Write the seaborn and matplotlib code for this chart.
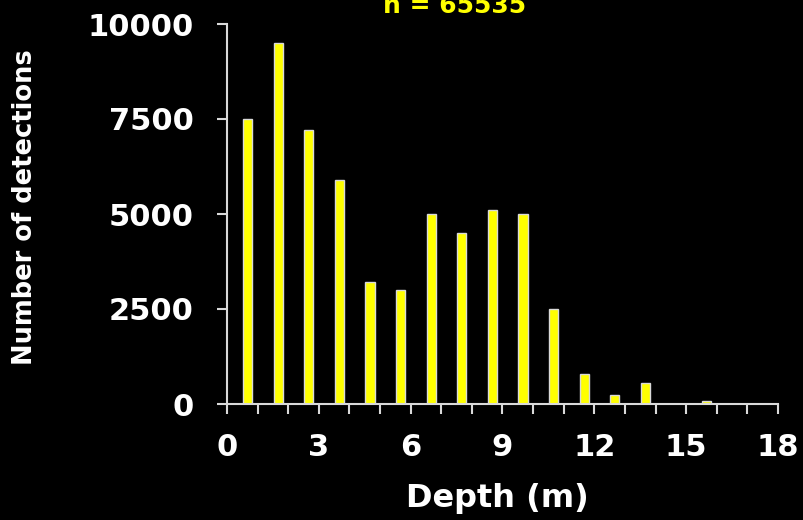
import numpy as np
import pandas as pd
import matplotlib
matplotlib.use("Agg")
import matplotlib.pyplot as plt
import seaborn as sns
from matplotlib.ticker import FixedLocator, MultipleLocator

# ---- data ----
depth_bins = list(range(18))          # depth bin (m), lower edge
counts = [7500, 9500, 7200, 5900, 3200, 3000, 5000, 4500, 5100, 5000,
          2500, 800, 230, 550, 0, 70, 0, 0]
x_ticks = [0, 3, 6, 9, 12, 15, 18]
y_ticks = [0, 2500, 5000, 7500, 10000]
title_text = "n = 65535"
x_label = "Depth (m)"
y_label = "Number of detections"

sns.set_theme(style="ticks")
plt.rcParams["font.family"] = ["DejaVu Sans"]

FG = "#D9D9D9"
fig = plt.figure(figsize=(8.04, 5.2), dpi=100, facecolor="black")
ax = fig.add_axes([227 / 804, 1 - 404 / 520, 551 / 804, 380 / 520])
ax.set_facecolor("black")

df = pd.DataFrame({"depth": np.array(depth_bins) + 0.67, "count": counts})
sns.barplot(data=df, x="depth", y="count", native_scale=True, width=0.3,
            color="#FFFF00", saturation=1, edgecolor=FG, linewidth=1.0,
            errorbar=None, ax=ax)

ax.set_xlim(0, 18)
ax.set_ylim(0, 10000)
ax.xaxis.set_major_locator(FixedLocator(x_ticks))
ax.xaxis.set_minor_locator(MultipleLocator(1))
ax.yaxis.set_major_locator(FixedLocator(y_ticks))

for s in ["top", "right"]:
    ax.spines[s].set_visible(False)
for s in ["left", "bottom"]:
    ax.spines[s].set_color(FG)
    ax.spines[s].set_linewidth(1.5)

ax.tick_params(axis="x", which="both", direction="out", length=7, width=1.5,
               color=FG, labelcolor="white", labelsize=22, pad=14)
ax.tick_params(axis="y", which="both", direction="out", length=7, width=1.5,
               color=FG, labelcolor="white", labelsize=22, pad=17)
for lab in ax.get_xticklabels() + ax.get_yticklabels():
    lab.set_fontweight("bold")

ax.set_xlabel(x_label, color="white", fontsize=23, fontweight="bold", va="center")
ax.xaxis.set_label_coords((497 - 227) / 551, (404 - 499) / 380)
ax.set_ylabel(y_label, color="white", fontsize=18.5, fontweight="bold", va="center")
ax.yaxis.set_label_coords((25 - 227) / 551, (404 - 207) / 380)

fig.text(455 / 804, 1 - 13 / 520, title_text, color="#FFFF00", fontsize=18,
         fontweight="bold", ha="center", va="baseline")

fig.savefig("out.png", dpi=100, facecolor="black")
